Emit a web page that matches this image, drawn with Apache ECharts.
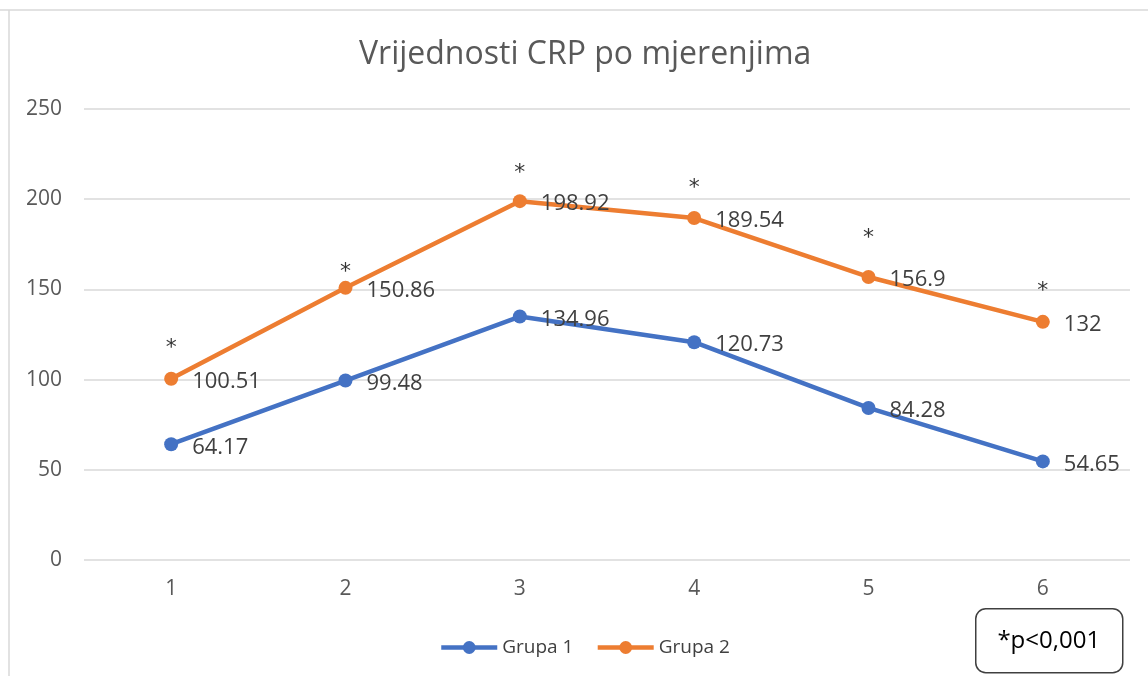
<!DOCTYPE html>
<html>
<head>
<meta charset="utf-8">
<title>Vrijednosti CRP po mjerenjima</title>
<script src="https://cdn.jsdelivr.net/npm/echarts@6/dist/echarts.min.js"></script>
<style>
  html, body { margin: 0; padding: 0; background: #fff; }
  #chart { width: 1148px; height: 676px; }
</style>
</head>
<body>
<div id="chart"></div>
<script>
// measurements (x axis)
var mjerenja = ['1', '2', '3', '4', '5', '6'];
// CRP values per group
var grupa1 = [64.17, 99.48, 134.96, 120.73, 84.28, 54.65];
var grupa2 = [100.51, 150.86, 198.92, 189.54, 156.9, 132];
// where the significance asterisks sit (in axis units)
var zvjezdice = [120, 162, 217, 209, 181, 152];

var chart = echarts.init(document.getElementById('chart'));

var labelStyle = {
  show: true,
  position: 'right',
  distance: 14,
  offset: [0, 3],
  fontSize: 22,
  color: '#404040',
  fontFamily: 'Open Sans'
};

var tickFont = { fontSize: 21, color: '#595959', fontFamily: 'Open Sans' };

var option = {
  backgroundColor: '#ffffff',
  title: {
    text: 'Vrijednosti CRP po mjerenjima',
    left: 354,
    top: 34,
    textStyle: {
      fontSize: 32,
      fontWeight: 'normal',
      color: '#595959',
      fontFamily: 'Open Sans'
    }
  },
  legend: {
    data: ['Grupa 1', 'Grupa 2'],
    left: 434,
    top: 633,
    itemWidth: 56,
    itemHeight: 16,
    itemGap: 22,
    lineStyle: { width: 4.5 },
    textStyle: { fontSize: 19, color: '#404040', fontFamily: 'Open Sans' }
  },
  grid: {
    left: 84,
    right: 18,
    top: 109,
    bottom: 116
  },
  xAxis: {
    type: 'category',
    data: mjerenja,
    boundaryGap: true,
    axisLine: { show: false },
    axisTick: { show: false },
    axisLabel: Object.assign({ margin: 19 }, tickFont)
  },
  yAxis: {
    type: 'value',
    min: 0,
    max: 250,
    interval: 50,
    axisLine: { show: false },
    axisTick: { show: false },
    axisLabel: Object.assign({ margin: 22 }, tickFont),
    splitLine: { lineStyle: { color: '#d9d9d9', width: 1.5 } }
  },
  series: [
    {
      name: 'Grupa 1',
      type: 'line',
      data: grupa1,
      color: '#4472C4',
      symbol: 'circle',
      symbolSize: 14,
      lineStyle: { width: 4.5 },
      label: labelStyle,
      z: 3
    },
    {
      name: 'Grupa 2',
      type: 'line',
      data: grupa2,
      color: '#ED7D31',
      symbol: 'circle',
      symbolSize: 14,
      lineStyle: { width: 4.5 },
      label: labelStyle,
      z: 3
    },
    {
      name: 'p',
      type: 'scatter',
      data: zvjezdice,
      symbolSize: 1,
      itemStyle: { color: 'rgba(0,0,0,0)' },
      silent: true,
      label: {
        show: true,
        position: 'inside',
        formatter: '*',
        offset: [0, 5],
        fontSize: 22,
        color: '#000000',
        fontFamily: 'DejaVu Sans'
      }
    }
  ],
  graphic: [
    // frame lines of the original chart area
    {
      type: 'line',
      shape: { x1: 0, y1: 10, x2: 1148, y2: 10 },
      style: { stroke: '#d9d9d9', lineWidth: 1.5 }
    },
    {
      type: 'line',
      shape: { x1: 9, y1: 10, x2: 9, y2: 676 },
      style: { stroke: '#d9d9d9', lineWidth: 1.5 }
    },
    // significance note
    {
      type: 'group',
      left: 975,
      top: 608,
      children: [
        {
          type: 'rect',
          shape: { x: 0, y: 0, width: 147, height: 64, r: 10 },
          style: { fill: '#ffffff', stroke: '#404040', lineWidth: 1.5 }
        },
        {
          type: 'text',
          x: 73,
          y: 32,
          style: {
            text: '*p<0,001',
            fontSize: 24,
            fill: '#000000',
            fontFamily: 'Open Sans',
            align: 'center',
            verticalAlign: 'middle'
          }
        }
      ]
    }
  ]
};

chart.setOption(option);
</script>
</body>
</html>
